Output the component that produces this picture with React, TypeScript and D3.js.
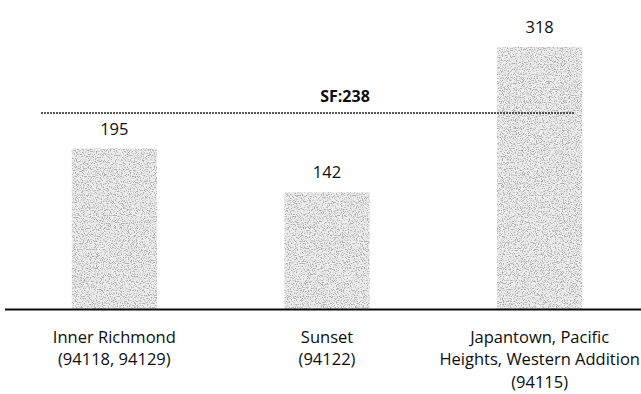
import { useEffect, useRef } from 'react';
import * as d3 from 'd3';

// Neighbourhood labels (one entry per text line) and their values
const CATEGORIES = ['Inner Richmond', 'Sunset', 'Japantown'];
const CATEGORY_LINES = [
  ['Inner Richmond', '(94118, 94129)'],
  ['Sunset', '(94122)'],
  ['Japantown, Pacific', 'Heights, Western Addition', '(94115)'],
];
const VALUES = [195, 142, 318];
const SF_VALUE = 238;
const SF_LABEL = 'SF:238';

const WIDTH = 641;
const HEIGHT = 394;
const BASELINE_Y = 309.5;
const FONT = '"Open Sans", "Liberation Sans", sans-serif';

const COLORS = {
  text: '#0d0d0d',
  axis: '#0a0a0a',
  barBase: '#eeeeee',
};

export default function App() {
  const svgRef = useRef<SVGSVGElement>(null);

  useEffect(() => {
    if (!svgRef.current) return;
    const svg = d3.select(svgRef.current);
    svg.selectAll('*').remove();

    const x = d3.scaleBand<string>()
      .domain(CATEGORIES)
      .range([8, 646])
      .paddingInner(0.6)
      .paddingOuter(0.3);

    const y = d3.scaleLinear()
      .domain([0, 318])
      .range([BASELINE_Y, 47]);

    // scanned-looking stipple texture for the bars
    const defs = svg.append('defs');
    const filter = defs.append('filter')
      .attr('id', 'stipple')
      .attr('x', 0).attr('y', 0).attr('width', 1).attr('height', 1)
      .attr('filterUnits', 'objectBoundingBox');
    filter.append('feTurbulence')
      .attr('type', 'fractalNoise')
      .attr('baseFrequency', 0.85)
      .attr('numOctaves', 2)
      .attr('seed', 7)
      .attr('result', 'noise');
    filter.append('feColorMatrix')
      .attr('in', 'noise')
      .attr('type', 'matrix')
      .attr('values', '0 0 0 0 0.42  0 0 0 0 0.42  0 0 0 0 0.42  -5 0 0 0 2.62')
      .attr('result', 'dots');
    filter.append('feComposite')
      .attr('in', 'dots')
      .attr('in2', 'SourceGraphic')
      .attr('operator', 'in')
      .attr('result', 'clipped');
    const merge = filter.append('feMerge');
    merge.append('feMergeNode').attr('in', 'SourceGraphic');
    merge.append('feMergeNode').attr('in', 'clipped');

    // Bars
    svg.append('g')
      .selectAll('rect')
      .data(VALUES)
      .join('rect')
      .attr('x', (_, i) => x(CATEGORIES[i]) as number)
      .attr('y', (d) => y(d))
      .attr('width', x.bandwidth())
      .attr('height', (d) => y(0) - y(d))
      .attr('fill', COLORS.barBase)
      .attr('filter', 'url(#stipple)');

    // Value labels
    svg.append('g')
      .selectAll('text')
      .data(VALUES)
      .join('text')
      .attr('x', (_, i) => (x(CATEGORIES[i]) as number) + x.bandwidth() / 2)
      .attr('y', (d) => y(d) - 14)
      .attr('text-anchor', 'middle')
      .attr('font-family', FONT)
      .attr('font-size', '16.5px')
      .attr('fill', COLORS.text)
      .text((d) => d);

    // SF reference line
    svg.append('line')
      .attr('x1', 41)
      .attr('x2', 575)
      .attr('y1', y(SF_VALUE))
      .attr('y2', y(SF_VALUE))
      .attr('stroke', '#222')
      .attr('stroke-width', 1.6)
      .attr('stroke-dasharray', '2,1');

    svg.append('text')
      .attr('x', 345)
      .attr('y', y(SF_VALUE) - 11)
      .attr('text-anchor', 'middle')
      .attr('font-family', FONT)
      .attr('font-size', '16px')
      .attr('font-weight', '700')
      .attr('fill', COLORS.text)
      .text(SF_LABEL);

    // Baseline
    svg.append('line')
      .attr('x1', 5)
      .attr('x2', WIDTH)
      .attr('y1', y(0))
      .attr('y2', y(0))
      .attr('stroke', COLORS.axis)
      .attr('stroke-width', 2);

    // Category labels
    CATEGORY_LINES.forEach((lines, i) => {
      const cx = (x(CATEGORIES[i]) as number) + x.bandwidth() / 2;
      const t = svg.append('text')
        .attr('text-anchor', 'middle')
        .attr('font-family', FONT)
        .attr('font-size', '16.5px')
        .attr('fill', COLORS.text);
      lines.forEach((line, j) => {
        t.append('tspan')
          .attr('x', cx)
          .attr('y', 342.5 + j * 22.5)
          .text(line);
      });
    });
  }, []);

  return (
    <svg
      ref={svgRef}
      width={WIDTH}
      height={HEIGHT}
      style={{ position: 'absolute', left: 0, top: 0, background: '#fff' }}
      role="img"
      aria-label="Bar chart of three San Francisco neighbourhoods compared with the SF value of 238"
    />
  );
}
